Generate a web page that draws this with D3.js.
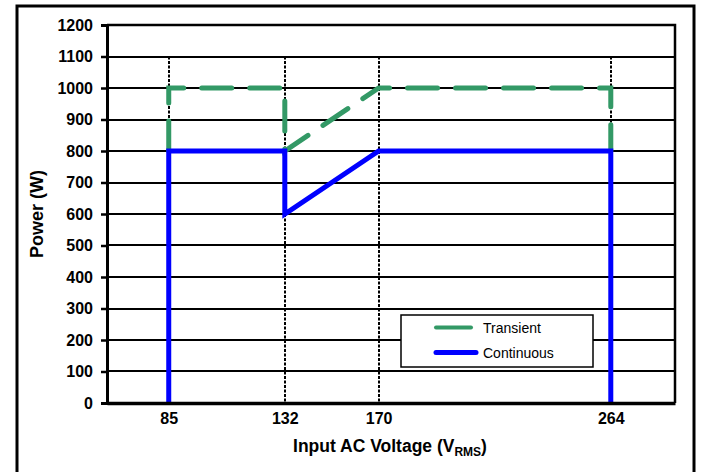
<!DOCTYPE html>
<html>
<head>
<meta charset="utf-8">
<script src="https://cdn.jsdelivr.net/npm/d3@7"></script>
<style>
  body { margin: 0; background: #fff; }
  text { font-family: "Liberation Sans", Arial, sans-serif; }
</style>
</head>
<body>
<script>
const width = 711;
const height = 472;

// data
const yTicks = [0, 100, 200, 300, 400, 500, 600, 700, 800, 900, 1000, 1100, 1200];
const xTicks = [85, 132, 170, 264];
const transientV = [85, 85, 132, 132, 170, 264, 264];
const transientP = [800, 1000, 1000, 800, 1000, 1000, 800];
const continuousV = [85, 85, 132, 132, 170, 264, 264];
const continuousP = [0, 800, 800, 600, 800, 800, 0];
const legendNames = ["Transient", "Continuous"];

const plot = { left: 107, right: 675, top: 25, bottom: 403 };

const svg = d3.select("body")
  .append("svg")
  .attr("width", width)
  .attr("height", height);

// outer frame
svg.append("rect")
  .attr("x", 17)
  .attr("y", 6)
  .attr("width", 677)
  .attr("height", 475)
  .attr("fill", "none")
  .attr("stroke", "#000")
  .attr("stroke-width", 3);

const x = d3.scaleLinear()
  .domain([60, 290])
  .range([plot.left, plot.right]);

const y = d3.scaleLinear()
  .domain([0, 1200])
  .range([plot.bottom, plot.top]);

// horizontal grid
svg.append("g")
  .selectAll("line")
  .data(yTicks.filter(d => d > 0 && d < 1200))
  .enter()
  .append("line")
  .attr("x1", plot.left)
  .attr("x2", plot.right)
  .attr("y1", d => Math.round(y(d)))
  .attr("y2", d => Math.round(y(d)))
  .attr("stroke", "#000")
  .attr("stroke-width", 2);

// vertical dotted lines
svg.append("g")
  .selectAll("line")
  .data(xTicks)
  .enter()
  .append("line")
  .attr("x1", d => Math.round(x(d)))
  .attr("x2", d => Math.round(x(d)))
  .attr("y1", y(1100))
  .attr("y2", y(0))
  .attr("stroke", "#000")
  .attr("stroke-width", 2)
  .attr("stroke-dasharray", "3,1.5");

// plot frame top/right
svg.append("path")
  .attr("d", `M${plot.left},${plot.top}H${plot.right}V${plot.bottom}`)
  .attr("fill", "none")
  .attr("stroke", "#000")
  .attr("stroke-width", 2.5);

const line = d3.line()
  .x(d => x(d[0]))
  .y(d => y(d[1]));

svg.append("path")
  .datum(transientV.map((v, i) => [v, transientP[i]]))
  .attr("d", line)
  .attr("fill", "none")
  .attr("stroke", "#339966")
  .attr("stroke-width", 5)
  .attr("stroke-linecap", "round")
  .attr("stroke-dasharray", "30,18");

svg.append("path")
  .datum(continuousV.map((v, i) => [v, continuousP[i]]))
  .attr("d", line)
  .attr("fill", "none")
  .attr("stroke", "#0000ff")
  .attr("stroke-width", 5);

// y axis
const yAxis = d3.axisLeft(y)
  .tickValues(yTicks)
  .tickSize(6)
  .tickPadding(8)
  .tickFormat(d3.format("d"));

const gy = svg.append("g")
  .attr("transform", `translate(${plot.left},0)`)
  .call(yAxis);
gy.select(".domain").attr("stroke-width", 3);
gy.selectAll(".tick line").attr("stroke-width", 2.5);
gy.selectAll("text")
  .attr("font-size", 16)
  .attr("font-weight", "bold")
  .attr("font-family", "Liberation Sans, Arial, sans-serif")
  .attr("fill", "#000");

// x axis
const xAxis = d3.axisBottom(x)
  .tickValues(xTicks)
  .tickSize(0)
  .tickPadding(10)
  .tickFormat(d3.format("d"));

const gx = svg.append("g")
  .attr("transform", `translate(0,${plot.bottom})`)
  .call(xAxis);
gx.select(".domain").attr("stroke-width", 3.5);
gx.selectAll("text")
  .attr("font-size", 16)
  .attr("font-weight", "bold")
  .attr("font-family", "Liberation Sans, Arial, sans-serif")
  .attr("fill", "#000");

// axis titles
svg.append("text")
  .attr("transform", "translate(43,214) rotate(-90)")
  .attr("text-anchor", "middle")
  .attr("font-size", 18)
  .attr("font-weight", "bold")
  .text("Power (W)");

const xt = svg.append("text")
  .attr("x", 390)
  .attr("y", 452)
  .attr("text-anchor", "middle")
  .attr("font-size", 17.5)
  .attr("font-weight", "bold");
xt.append("tspan").text("Input AC Voltage (V");
xt.append("tspan").attr("font-size", 12).attr("dy", 4).text("RMS");
xt.append("tspan").attr("dy", -4).text(")");

// legend
const legend = svg.append("g")
  .attr("transform", "translate(401,315)");

legend.append("rect")
  .attr("width", 192)
  .attr("height", 52)
  .attr("fill", "#fff")
  .attr("stroke", "#000")
  .attr("stroke-width", 1.5);

const legendColors = ["#339966", "#0000ff"];
const ly = d3.scaleBand().domain(legendNames).range([2, 52]);

legend.selectAll(".lg-line")
  .data(legendNames)
  .enter()
  .append("line")
  .attr("x1", 35)
  .attr("x2", (d, i) => i === 0 ? 70 : 75)
  .attr("y1", d => ly(d) + ly.bandwidth() / 2 - 2)
  .attr("y2", d => ly(d) + ly.bandwidth() / 2 - 2)
  .attr("stroke", (d, i) => legendColors[i])
  .attr("stroke-width", (d, i) => i === 0 ? 4 : 5)
  .attr("stroke-linecap", "round");

legend.selectAll(".lg-text")
  .data(legendNames)
  .enter()
  .append("text")
  .attr("x", 82)
  .attr("y", d => ly(d) + ly.bandwidth() / 2 + 3)
  .attr("font-size", 14)
  .text(d => d);
</script>
</body>
</html>
